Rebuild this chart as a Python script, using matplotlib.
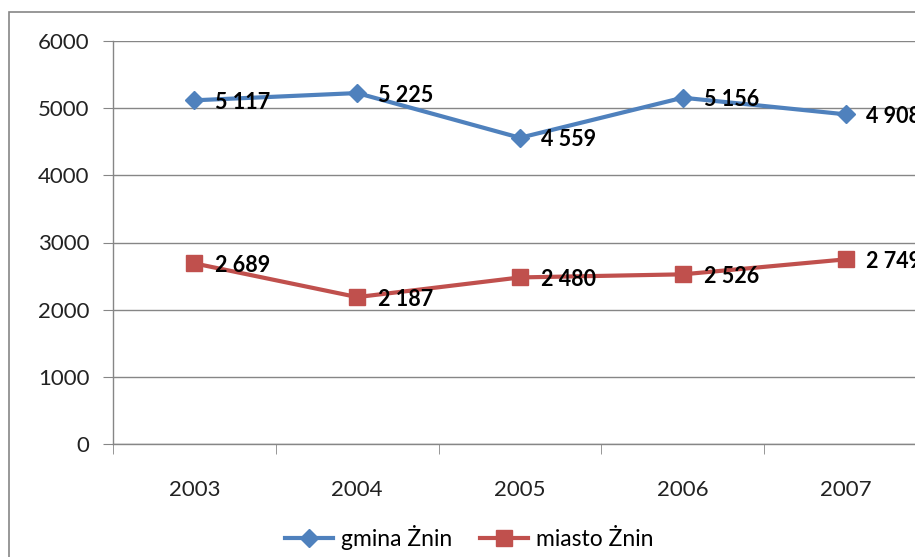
import matplotlib
matplotlib.use("Agg")
import matplotlib.pyplot as plt
from matplotlib.patches import Rectangle

years = ["2003", "2004", "2005", "2006", "2007"]
gmina = [5117, 5225, 4559, 5156, 4908]
miasto = [2689, 2187, 2480, 2526, 2749]
series_names = ["gmina Żnin", "miasto Żnin"]

plt.rcParams['font.family'] = ['Lato', 'DejaVu Sans']

W, H = 915, 557
fig = plt.figure(figsize=(W / 100, H / 100), dpi=100)

# outer chart border (cropped on right and bottom, as in the reference)
fig.patches.append(Rectangle((9 / W, -0.1), 1.2, (H - 12) / H + 0.1, transform=fig.transFigure,
                             fill=False, edgecolor='#868686', linewidth=1.2))

left, right = 113 / W, 927 / W
bottom, top = (H - 444) / H, (H - 41) / H
ax = fig.add_axes([left, bottom, right - left, top - bottom])

x = list(range(len(years)))
blue = '#4F81BD'
red = '#C0504D'
l1, = ax.plot(x, gmina, color=blue, lw=3, marker='D', markersize=9, label=series_names[0],
              clip_on=False, zorder=3)
l2, = ax.plot(x, miasto, color=red, lw=3, marker='s', markersize=12, label=series_names[1],
              clip_on=False, zorder=3)

for series in (gmina, miasto):
    for xi, v in zip(x, series):
        ax.annotate(f"{v // 1000} {v % 1000:03d}", (xi, v), xytext=(15, -1.5),
                    textcoords='offset points', ha='left', va='center', fontsize=15.5,
                    fontweight='bold', color='black', annotation_clip=False, zorder=4)

ax.set_xlim(-0.5, 4.5)
ax.set_ylim(0, 6000)
ax.set_yticks(range(0, 6001, 1000))
ax.set_xticks(x)
ax.set_xticklabels(years)
ax.set_xticks([i - 0.5 for i in range(len(years) + 1)], minor=True)
ax.tick_params(axis='x', which='major', length=0, pad=26, labelsize=16, colors='#222222')
ax.tick_params(axis='x', which='minor', length=7, color='#868686', direction='out')
ax.tick_params(axis='y', length=7, color='#868686', labelsize=16, pad=10, direction='out')
for lab in ax.get_xticklabels() + ax.get_yticklabels():
    lab.set_color('#222222')

ax.grid(axis='y', color='#868686', lw=1)
ax.set_axisbelow(True)
for s in ['top', 'right']:
    ax.spines[s].set_visible(False)
for s in ['left', 'bottom']:
    ax.spines[s].set_color('#868686')
    ax.spines[s].set_linewidth(1)

fig.legend(handles=[l1, l2], loc='center', bbox_to_anchor=(469 / W, (H - 538) / H), ncol=2,
           frameon=False, fontsize=16.5, handlelength=2.1, columnspacing=1.2, handletextpad=0.35)

fig.savefig("out.png", dpi=100)
